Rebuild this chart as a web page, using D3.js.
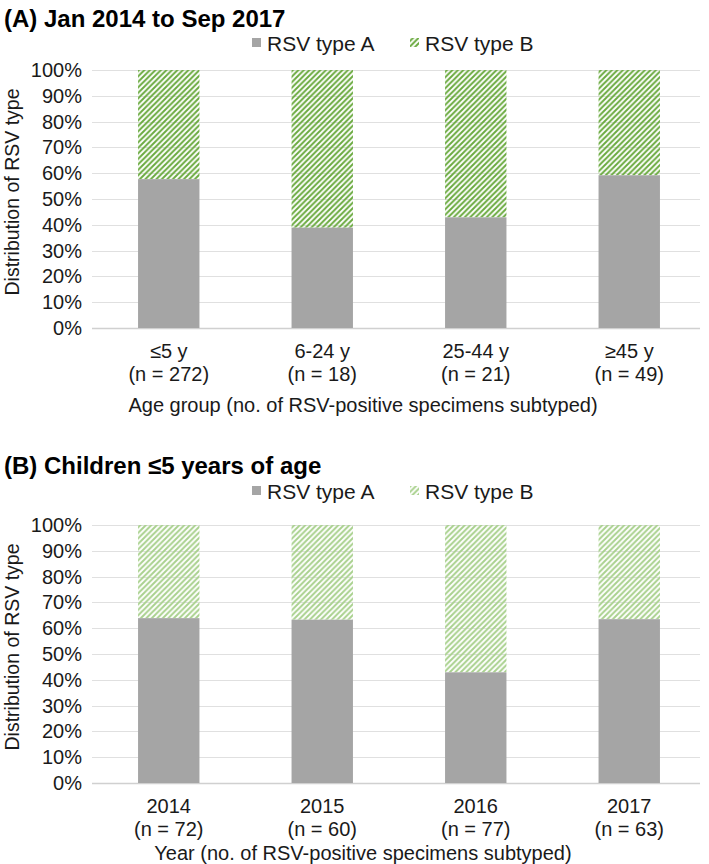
<!DOCTYPE html>
<html>
<head>
<meta charset="utf-8">
<script src="https://cdn.jsdelivr.net/npm/d3@7"></script>
<style>
  body { margin: 0; background: #fff; }
  svg { display: block; font-family: "Liberation Sans", Arial, sans-serif; }
</style>
</head>
<body>
<div id="container"></div>
<script>
// Data
const ageGroups  = ['≤5 y', '6-24 y', '25-44 y', '≥45 y'];
const ageCounts  = [272, 18, 21, 49];
const ageTypeA   = [0.577, 0.389, 0.429, 0.592];

const years      = ['2014', '2015', '2016', '2017'];
const yearCounts = [72, 60, 77, 63];
const yearTypeA  = [0.639, 0.633, 0.429, 0.635];

const yTicks     = d3.range(0, 1.0001, 0.1);

const W = 709, H = 864;
const FS = 20;
const svg = d3.select('#container').append('svg')
  .attr('width', W).attr('height', H);

const defs = svg.append('defs');
function hatch(id, color) {
  const s = 5.5;
  const p = defs.append('pattern')
    .attr('id', id)
    .attr('patternUnits', 'userSpaceOnUse')
    .attr('width', s).attr('height', s);
  p.append('path')
    .attr('d', `M0,${s} L${s},0 M${-s / 2},${s / 2} L${s / 2},${-s / 2} M${s / 2},${s * 1.5} L${s * 1.5},${s / 2}`)
    .attr('stroke', color)
    .attr('stroke-width', 2);
}
hatch('hatchA', '#6aaa3f');
hatch('hatchB', '#a9d18e');

function panel(opts) {
  const g = svg.append('g');
  const left = 92, right = 706;
  const x = d3.scaleBand().domain(opts.cats).range([left, right])
    .paddingInner(0.6).paddingOuter(0.3);
  const y = d3.scaleLinear().domain([0, 1]).range([opts.y0, opts.y1]);

  // title
  g.append('text')
    .attr('x', 4).attr('y', opts.titleY)
    .attr('font-size', 24).attr('font-weight', 'bold').attr('fill', '#000')
    .text(opts.title);

  // legend
  const lg = g.append('g').attr('font-size', 21).attr('fill', '#1a1a1a');
  lg.append('rect').attr('x', 252).attr('y', opts.legendY - 5)
    .attr('width', 9).attr('height', 9).attr('fill', '#a5a5a5');
  lg.append('text').attr('x', 267).attr('y', opts.legendY + 8).text('RSV type A');
  lg.append('rect').attr('x', 410).attr('y', opts.legendY - 5)
    .attr('width', 9).attr('height', 9).attr('fill', `url(#${opts.hatch})`);
  lg.append('text').attr('x', 425).attr('y', opts.legendY + 8).text('RSV type B');

  // gridlines
  g.append('g').selectAll('line').data(yTicks).join('line')
    .attr('x1', left).attr('x2', 700)
    .attr('y1', d => Math.round(y(d)) + 0.5).attr('y2', d => Math.round(y(d)) + 0.5)
    .attr('stroke', d => d === 0 ? '#d0d0d0' : '#e0e0e0')
    .attr('stroke-width', d => d === 0 ? 1.5 : 1);

  // y axis labels
  const yAxis = d3.axisLeft(y).tickValues(yTicks).tickFormat(d3.format('.0%'))
    .tickSize(0).tickPadding(10);
  const ya = g.append('g').attr('transform', `translate(${left},0)`).call(yAxis);
  ya.select('.domain').remove();
  ya.selectAll('text').attr('font-size', FS).attr('fill', '#1a1a1a')
    .attr('font-family', '"Liberation Sans", Arial, sans-serif');

  // y axis title
  g.append('text')
    .attr('transform', `translate(19,${(opts.y0 + opts.y1) / 2 - 7}) rotate(-90)`)
    .attr('text-anchor', 'middle').attr('font-size', 19.5).attr('fill', '#1a1a1a')
    .text('Distribution of RSV type');

  // bars
  const rows = opts.cats.map((c, i) => ({ cat: c, a: opts.typeA[i] }));
  g.append('g').selectAll('rect.b').data(rows).join('rect')
    .attr('x', d => x(d.cat)).attr('width', x.bandwidth())
    .attr('y', y(1)).attr('height', d => y(d.a) - y(1))
    .attr('fill', `url(#${opts.hatch})`);
  g.append('g').selectAll('rect.a').data(rows).join('rect')
    .attr('x', d => x(d.cat)).attr('width', x.bandwidth())
    .attr('y', d => y(d.a)).attr('height', d => y(0) - y(d.a))
    .attr('fill', '#a5a5a5');

  // x labels
  const xl = g.append('g').attr('font-size', FS).attr('fill', '#1a1a1a').attr('text-anchor', 'middle');
  opts.cats.forEach((c, i) => {
    const cx = x(c) + x.bandwidth() / 2;
    xl.append('text').attr('x', cx).attr('y', opts.y0 + 30).text(c);
    xl.append('text').attr('x', cx).attr('y', opts.y0 + 53).text(`(n = ${opts.counts[i]})`);
  });

  g.append('text')
    .attr('x', 363).attr('y', opts.y0 + opts.titleGap)
    .attr('text-anchor', 'middle').attr('font-size', FS).attr('fill', '#1a1a1a')
    .text(opts.xTitle);
}

panel({
  title: '(A) Jan 2014 to Sep 2017', titleY: 27, legendY: 43,
  cats: ageGroups, counts: ageCounts, typeA: ageTypeA,
  y0: 328, y1: 70, hatch: 'hatchA', titleGap: 84,
  xTitle: 'Age group (no. of RSV-positive specimens subtyped)'
});

panel({
  title: '(B) Children ≤5 years of age', titleY: 474, legendY: 491,
  cats: years, counts: yearCounts, typeA: yearTypeA,
  y0: 783, y1: 525, hatch: 'hatchB', titleGap: 77,
  xTitle: 'Year (no. of RSV-positive specimens subtyped)'
});
</script>
</body>
</html>
